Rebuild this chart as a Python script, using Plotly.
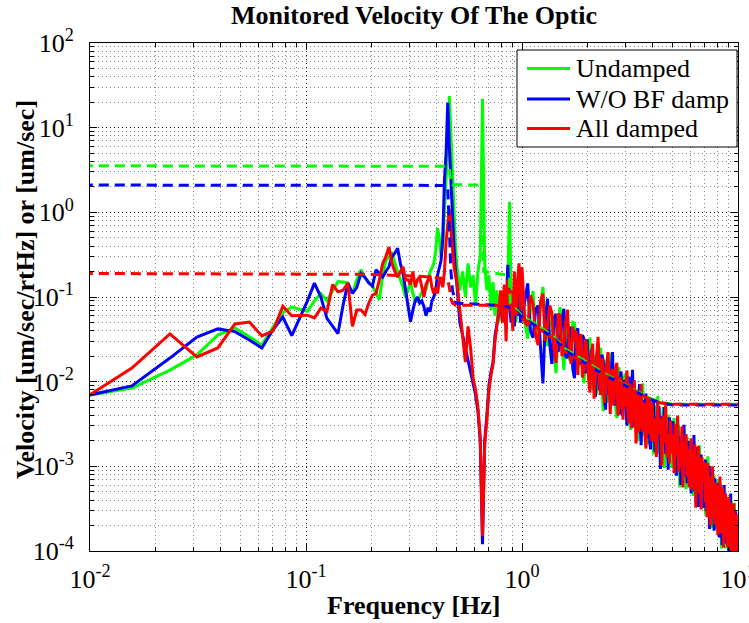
import numpy as np
import plotly.graph_objects as go

# ---------------- data ----------------
# frequency bins (Hz): 1/128 Hz below 0.5 Hz, every other bin 0.5-1 Hz, 1/32 Hz for 1-4 Hz, 1/16 Hz for 4-10 Hz
k_lf = np.arange(1, 65)
k_mf = np.arange(66, 127, 2)
freq_lf = k_lf / 128.0
freq_mf = k_mf / 128.0
freq_hf = np.concatenate([np.arange(32, 128) / 32.0, np.arange(64, 161) / 16.0])

# ASD values (um/sec/rtHz), 0.0078-0.5 Hz
undamped_lf = [
    0.0063, 0.0084, 0.0137, 0.0207, 0.0356, 0.043, 0.034, 0.027, 0.044, 0.065,
    0.076, 0.072, 0.068, 0.09, 0.11, 0.09, 0.12, 0.152, 0.15, 0.146,
    0.11, 0.16, 0.21, 0.17, 0.15, 0.135, 0.11, 0.093, 0.18, 0.27,
    0.30, 0.34, 0.25, 0.20, 0.168, 0.13, 0.10, 0.12, 0.15, 0.11,
    0.09, 0.088, 0.10, 0.11, 0.13, 0.12, 0.15, 0.20, 0.22, 0.25,
    0.35, 0.65, 0.51, 0.30, 0.40, 1.0, 2.4, 6.0, 23.6, 8.0,
    3.0, 0.81, 0.40, 0.23]
wobf_lf = [
    0.0061, 0.0089, 0.019, 0.0337, 0.042, 0.039, 0.031, 0.025, 0.041, 0.058,
    0.035, 0.056, 0.09, 0.146, 0.10, 0.056, 0.045, 0.037, 0.08, 0.146,
    0.11, 0.13, 0.19, 0.17, 0.146, 0.135, 0.21, 0.19, 0.172, 0.20,
    0.228, 0.30, 0.33, 0.376, 0.25, 0.19, 0.12, 0.08, 0.051, 0.07,
    0.09, 0.10, 0.085, 0.09, 0.077, 0.06, 0.075, 0.067, 0.09, 0.10,
    0.12, 0.18, 0.23, 0.27, 0.50, 2.4, 5.0, 19.7, 6.0, 2.0,
    0.8, 0.39, 0.20, 0.135]
alldamped_lf = [
    0.0047, 0.0145, 0.0366, 0.0196, 0.025, 0.048, 0.0507, 0.0347, 0.0397, 0.078,
    0.060, 0.061, 0.061, 0.0565, 0.074, 0.067, 0.14, 0.115, 0.12, 0.146,
    0.045, 0.07, 0.07, 0.062, 0.085, 0.105, 0.11, 0.16, 0.25, 0.30,
    0.39, 0.25, 0.20, 0.172, 0.20, 0.228, 0.16, 0.16, 0.14, 0.20,
    0.13, 0.16, 0.172, 0.13, 0.10, 0.14, 0.16, 0.18, 0.13, 0.11,
    0.13, 0.11, 0.15, 0.17, 0.13, 0.20, 0.45, 0.75, 1.1, 0.62,
    0.35, 0.23, 0.18, 0.15]

# ASD values, 0.5-1 Hz
undamped_mf = [
    0.12, 0.20, 0.10, 0.25, 0.13, 0.18, 0.08, 0.20, 0.30, 22.0,
    0.25, 0.12, 0.18, 0.07, 0.15, 0.06, 0.12, 0.05, 0.10, 0.07,
    0.13, 0.06, 0.12, 1.33, 0.10, 0.06, 0.11, 0.05, 0.09, 0.06,
    0.10]
wobf_mf = [
    0.05, 0.035, 0.025, 0.018, 0.013, 0.0095, 0.007, 0.0045, 0.002, 1.2e-4,
    0.002, 0.004, 0.009, 0.013, 0.017, 0.035, 0.05, 0.065, 0.09, 0.05,
    0.10, 0.06, 0.24, 0.08, 0.05, 0.11, 0.045, 0.09, 0.06, 0.12,
    0.05]
alldamped_mf = [
    0.07, 0.035, 0.017, 0.045, 0.025, 0.011, 0.008, 0.005, 0.0022, 1.5e-4,
    0.0018, 0.0035, 0.008, 0.012, 0.016, 0.03, 0.045, 0.07, 0.12, 0.05,
    0.14, 0.03, 0.16, 0.07, 0.12, 0.04, 0.2, 0.06, 0.15, 0.25,
    0.07]

# ASD values 1-10 Hz, given as log10(um/sec/rtHz)
undamped_hf_log10 = [
    # 1-2 Hz (1/32 Hz)
    -1.00, -1.30, -1.49, -1.15, -0.93, -1.42, -1.34, -1.10, -0.88, -1.38, -1.58, -1.20, -1.29, -1.65, -1.90, -1.35,
    -1.12, -1.55, -1.86, -1.40, -1.35, -1.75, -1.59, -1.30, -1.31, -1.80, -1.84, -1.45, -1.54, -1.88, -2.02, -1.60,
    # 2-3 Hz
    -1.90, -1.62, -1.48, -1.95, -2.10, -1.70, -1.71, -2.15, -1.90, -1.68, -1.60, -2.05, -2.35, -1.85, -1.75, -2.25,
    -2.07, -1.78, -1.66, -2.18, -2.22, -1.90, -1.95, -2.32, -2.43, -1.92, -1.83, -2.28, -2.12, -1.98, -1.93, -2.35,
    # 3-4 Hz
    -1.90, -2.20, -2.37, -2.05, -2.09, -2.45, -2.57, -2.15, -1.94, -2.50, -2.31, -2.10, -2.13, -2.55, -2.70, -2.22,
    -2.13, -2.60, -2.45, -2.18, -2.02, -2.52, -2.64, -2.28, -2.36, -2.70, -2.74, -2.32, -2.24, -2.68, -2.63, -2.40,
    # 4-10 Hz (1/16 Hz)
    -2.40, -2.86, -2.28, -2.66, -2.17, -2.85, -2.53, -2.77, -2.30, -3.02, -2.48, -2.69, -2.39, -2.89, -2.56, -3.02,
    -2.87, -2.43, -3.05, -2.64, -2.83, -2.51, -3.25, -2.64, -2.95, -2.53, -3.08, -2.79, -3.27, -2.65, -2.94, -2.73,
    -2.70, -3.17, -2.88, -3.35, -2.71, -3.07, -2.89, -3.45, -2.87, -3.18, -2.75, -3.36, -3.08, -3.44, -2.94, -3.32,
    -3.10, -3.57, -2.98, -3.37, -2.88, -3.55, -3.24, -3.48, -3.02, -3.73, -3.20, -3.41, -3.11, -3.61, -3.29, -3.74,
    -3.60, -3.16, -3.77, -3.37, -3.55, -3.23, -3.97, -3.35, -3.67, -3.24, -3.79, -3.50, -3.97, -3.36, -3.64, -3.43,
    -3.40, -3.86, -3.58, -4.04, -3.40, -3.76, -3.58, -4.14, -3.55, -3.86, -3.43, -4.04, -3.75, -4.11, -3.61, -3.99,
    -4.00]
wobf_hf_log10 = [
    -1.25, -1.05, -0.84, -1.40, -1.48, -1.15, -1.10, -1.60, -2.02, -1.30, -1.02, -1.55, -1.79, -1.25, -1.20, -1.65,
    -1.54, -1.28, -1.14, -1.70, -1.72, -1.35, -1.46, -1.85, -1.96, -1.42, -1.37, -1.80, -1.68, -1.45, -1.50, -1.90,
    -1.50, -1.85, -1.98, -1.62, -1.70, -2.05, -2.18, -1.70, -1.55, -2.10, -1.93, -1.68, -1.75, -2.20, -2.33, -1.80,
    -1.75, -2.15, -2.08, -1.78, -1.65, -2.22, -2.28, -1.90, -2.00, -2.30, -2.38, -1.95, -1.88, -2.40, -2.28, -1.98,
    -2.05, -2.30, -2.52, -2.10, -1.94, -2.45, -2.34, -2.05, -1.86, -2.40, -2.54, -2.12, -2.23, -2.60, -2.48, -2.18,
    -2.03, -2.55, -2.75, -2.25, -2.22, -2.58, -2.44, -2.20, -2.14, -2.65, -2.66, -2.28, -2.34, -2.72, -2.80, -2.35,
    -2.65, -2.21, -2.83, -2.42, -2.60, -2.29, -3.03, -2.41, -2.72, -2.30, -2.85, -2.56, -3.04, -2.42, -2.70, -2.50,
    -2.47, -2.93, -2.65, -3.11, -2.48, -2.84, -2.65, -3.22, -2.63, -2.95, -2.51, -3.12, -2.84, -3.20, -2.70, -3.08,
    -2.85, -3.32, -2.73, -3.12, -2.63, -3.30, -2.99, -3.23, -2.77, -3.48, -2.95, -3.16, -2.86, -3.36, -3.04, -3.49,
    -3.35, -2.92, -3.53, -3.13, -3.31, -2.99, -3.74, -3.12, -3.44, -3.01, -3.57, -3.28, -3.76, -3.14, -3.43, -3.22,
    -3.20, -3.66, -3.37, -3.84, -3.20, -3.56, -3.37, -3.93, -3.35, -3.66, -3.22, -3.83, -3.54, -3.91, -3.40, -3.78,
    -3.55, -4.01, -3.43, -3.81, -3.32, -3.99, -3.68, -3.92, -3.45, -4.16, -3.63, -3.84, -3.53, -4.03, -3.71, -4.16,
    -3.90]
alldamped_hf_log10 = [
    -0.65, -1.30, -1.34, -0.98, -1.08, -1.45, -1.57, -1.05, -0.96, -1.52, -1.35, -1.10, -1.19, -1.60, -1.78, -1.20,
    -1.22, -1.70, -1.56, -1.30, -1.15, -1.62, -1.79, -1.35, -1.53, -1.40, -1.92, -1.48, -1.44, -1.95, -1.85, -1.50,
    -1.65, -1.95, -2.13, -1.70, -1.55, -2.20, -1.95, -1.60, -1.47, -1.98, -2.16, -1.72, -1.85, -2.25, -2.11, -1.80,
    -1.65, -2.05, -2.38, -1.90, -1.85, -2.28, -2.08, -1.82, -1.78, -2.40, -2.30, -1.95, -1.98, -2.35, -2.45, -2.00,
    -2.30, -2.05, -1.87, -2.35, -2.49, -2.02, -2.10, -2.55, -2.29, -2.08, -1.98, -2.42, -2.73, -2.20, -2.12, -2.60,
    -2.45, -2.15, -2.03, -2.52, -2.59, -2.25, -2.31, -2.68, -2.79, -2.30, -2.19, -2.62, -2.48, -2.22, -2.28, -2.70,
    -2.25, -2.71, -2.43, -2.89, -2.25, -2.62, -2.43, -2.99, -2.40, -2.72, -2.28, -2.89, -2.61, -2.97, -2.46, -2.85,
    -2.62, -3.08, -2.50, -2.88, -2.40, -3.07, -2.75, -3.00, -2.53, -3.25, -2.71, -2.92, -2.62, -3.12, -2.80, -3.25,
    -3.10, -2.67, -3.28, -2.88, -3.06, -2.74, -3.49, -2.87, -3.19, -2.76, -3.32, -3.03, -3.51, -2.89, -3.18, -2.97,
    -2.95, -3.42, -3.13, -3.60, -2.96, -3.32, -3.14, -3.70, -3.12, -3.43, -3.00, -3.61, -3.33, -3.69, -3.19, -3.57,
    -3.35, -3.81, -3.22, -3.61, -3.12, -3.79, -3.47, -3.71, -3.25, -3.96, -3.42, -3.63, -3.32, -3.83, -3.50, -3.95,
    -3.80, -3.36, -3.98, -3.57, -3.75, -3.43, -4.18, -3.56, -3.87, -3.44, -4.00, -3.71, -4.18, -3.56, -3.85, -3.64,
    -4.20]

# cumulative RMS (um/sec), dashed
undamped_rms_freq = [0.0078125, 0.4375, 0.4453, 0.4531, 0.4609, 0.4688, 0.4766, 0.6406, 0.6484, 0.6563,
                     0.6641, 0.8672, 0.875, 0.8828, 1.0, 1.2, 1.4, 1.6, 2.0, 2.4,
                     2.9, 3.4, 3.9, 4.4, 5.0, 10.0]
undamped_rms = [3.55, 3.55, 3.5, 3.45, 3.3, 2.2, 2.12, 2.1, 2.1, 2.05,
                0.2, 0.18, 0.17, 0.085, 0.06, 0.045, 0.034, 0.024, 0.017, 0.0125,
                0.0097, 0.0077, 0.0064, 0.0057, 0.0054, 0.0054]
wobf_rms_freq = [0.0078125, 0.4375, 0.4453, 0.4531, 0.4609, 0.4688, 0.4766, 0.4922, 0.75, 0.9,
                 1.0, 1.2, 1.4, 1.6, 2.0, 2.4, 2.9, 3.4, 3.9, 4.4,
                 5.0, 10.0]
wobf_rms = [2.1, 2.1, 2.08, 2.0, 0.55, 0.2, 0.12, 0.085, 0.08, 0.075,
            0.058, 0.043, 0.033, 0.023, 0.016, 0.012, 0.0095, 0.0075, 0.0062, 0.0056,
            0.0053, 0.0053]
alldamped_rms_freq = [0.0078125, 0.2, 0.35, 0.4375, 0.4453, 0.4531, 0.4609, 0.4688, 0.4766, 0.4922,
                      0.75, 0.9, 1.0, 1.2, 1.4, 1.6, 2.0, 2.4, 2.9, 3.4,
                      3.9, 4.4, 5.0, 10.0]
alldamped_rms = [0.19, 0.185, 0.175, 0.168, 0.165, 0.16, 0.13, 0.095, 0.085, 0.08,
                 0.08, 0.075, 0.056, 0.042, 0.032, 0.022, 0.016, 0.012, 0.0095, 0.0075,
                 0.0062, 0.0056, 0.0054, 0.0054]

series_names = ["Undamped", "W/O BF damp", "All damped"]
series_colors = ["#00FF00", "#0000FF", "#FF0000"]

x_tick_vals = [0.01, 0.1, 1, 10]
x_tick_text = ["10<sup>-2</sup>", "10<sup>-1</sup>", "10<sup>0</sup>", "10<sup>1</sup>"]
y_tick_vals = [1e-4, 1e-3, 1e-2, 1e-1, 1, 10, 100]
y_tick_text = ["10<sup>-4</sup>", "10<sup>-3</sup>", "10<sup>-2</sup>", "10<sup>-1</sup>",
               "10<sup>0</sup>", "10<sup>1</sup>", "10<sup>2</sup>"]

# ---------------- figure ----------------
W, H = 749, 623
ML, MR, MT, MB = 90, 11, 43, 72
PW, PH = W - ML - MR, H - MT - MB


def px_x(px):  # pixel -> paper x
    return (px - ML) / PW


def px_y(py):  # pixel -> paper y
    return (H - MB - py) / PH


freq_all = np.concatenate([freq_lf, freq_mf, freq_hf])
asd = [
    np.concatenate([undamped_lf, undamped_mf, 10 ** np.array(undamped_hf_log10)]),
    np.concatenate([wobf_lf, wobf_mf, 10 ** np.array(wobf_hf_log10)]),
    np.concatenate([alldamped_lf, alldamped_mf, 10 ** np.array(alldamped_hf_log10)]),
]
rms = [(undamped_rms_freq, undamped_rms), (wobf_rms_freq, wobf_rms), (alldamped_rms_freq, alldamped_rms)]

FONT = "Liberation Serif"
fig = go.Figure()
for name, color, y in zip(series_names, series_colors, asd):
    fig.add_trace(go.Scatter(x=freq_all, y=y, mode="lines", name=name,
                             line=dict(color=color, width=3), hoverinfo="skip"))
for name, color, (fx, fy) in zip(series_names, series_colors, rms):
    fig.add_trace(go.Scatter(x=fx, y=fy, mode="lines", name=name + " RMS", showlegend=False,
                             line=dict(color=color, width=3, dash="10px,6px"), hoverinfo="skip"))

axis_common = dict(
    type="log", showline=True, linecolor="black", linewidth=1, mirror="allticks",
    ticks="inside", ticklen=7, tickcolor="black", tickwidth=1,
    showgrid=True, gridcolor="#222222", griddash="1px,3px", gridwidth=1,
    zeroline=False, automargin=False, ticklabeloverflow="allow",
    minor=dict(dtick="D1", ticks="inside", ticklen=4, tickcolor="black",
               showgrid=True, gridcolor="#888888", griddash="1px,3px", gridwidth=1),
    tickfont=dict(family=FONT, size=26, color="black"),
)

fig.update_xaxes(range=[-2, 1], tickmode="array", tickvals=x_tick_vals, ticktext=x_tick_text,
                 ticklabelstandoff=5, **axis_common)
fig.update_yaxes(range=[-4, 2], tickmode="array", tickvals=y_tick_vals, ticktext=y_tick_text,
                 ticklabelstandoff=10, **axis_common)

# legend drawn as box + line samples + text (matches the reference's long line samples)
legend_rows_px = [68.5, 99.0, 128.5]
shapes = [dict(type="rect", xref="paper", yref="paper", x0=px_x(517), x1=px_x(737),
               y0=px_y(147), y1=px_y(50), line=dict(color="black", width=1), fillcolor="white", layer="above")]
annotations = []
for name, color, ry in zip(series_names, series_colors, legend_rows_px):
    shapes.append(dict(type="line", xref="paper", yref="paper", x0=px_x(527), x1=px_x(570),
                       y0=px_y(ry), y1=px_y(ry), line=dict(color=color, width=3), layer="above"))
    annotations.append(dict(text=name, xref="paper", yref="paper", x=px_x(574), y=px_y(ry),
                            xanchor="left", yanchor="middle", showarrow=False,
                            font=dict(family=FONT, size=26, color="black")))

annotations += [
    dict(text="<b>Frequency [Hz]</b>", xref="paper", yref="paper", x=0.5, y=px_y(605),
         xanchor="center", yanchor="middle", showarrow=False,
         font=dict(family=FONT, size=26, color="black")),
    dict(text="<b>Velocity [um/sec/rtHz] or [um/sec]</b>", xref="paper", yref="paper",
         x=px_x(25), y=px_y(290), xanchor="center", yanchor="middle",
         textangle=-90, showarrow=False, font=dict(family=FONT, size=26, color="black")),
]

fig.update_layout(
    width=W, height=H,
    margin=dict(l=ML, r=MR, t=MT, b=MB),
    paper_bgcolor="white", plot_bgcolor="white",
    font=dict(family=FONT, color="black"),
    title=dict(text="<b>Monitored Velocity Of The Optic</b>", x=0.5, xref="paper", xanchor="center",
               y=1 - 15 / H, yref="container", yanchor="middle",
               font=dict(family=FONT, size=26, color="black")),
    showlegend=False,
    shapes=shapes,
    annotations=annotations,
)

fig.write_html("out.html", config={"displayModeBar": False},
               post_script="document.body.style.margin='0px';")
